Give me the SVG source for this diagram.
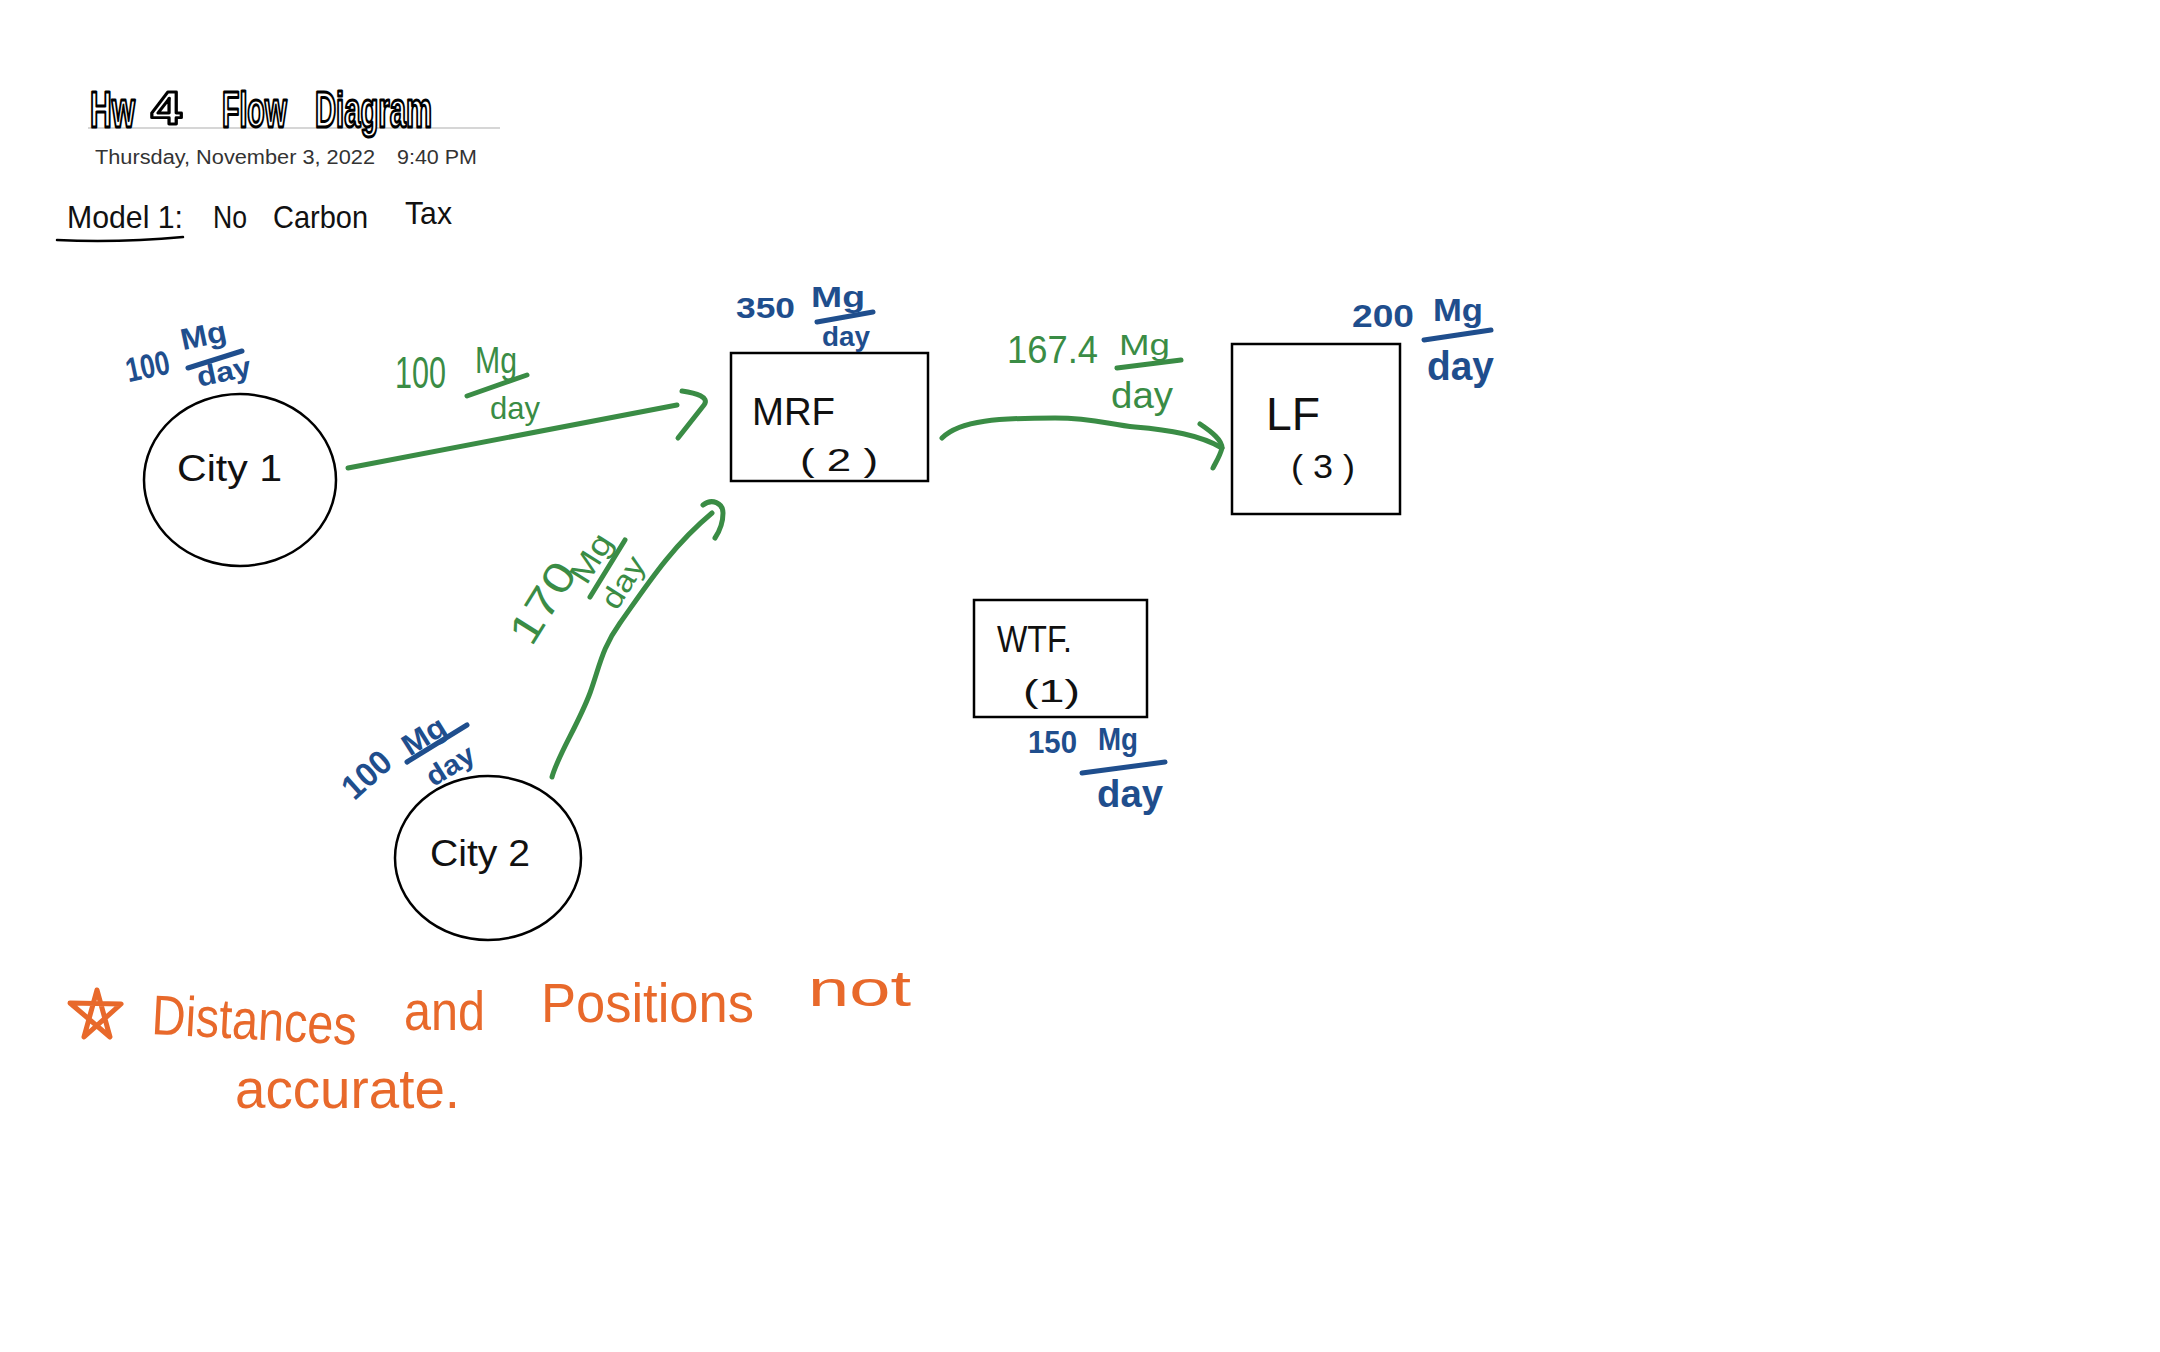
<svg xmlns="http://www.w3.org/2000/svg" width="2160" height="1352" viewBox="0 0 2160 1352">
<style>
.bg{fill:#fff}
.node{fill:none;stroke:#000;stroke-width:2.5}
.hand{font-family:"Liberation Sans",Arial,sans-serif;fill:#111}
.title{font-family:"Liberation Sans",Arial,sans-serif;font-weight:bold;font-size:50px;fill:#fff;stroke:#000;stroke-width:3;stroke-linejoin:round}
.date{font-family:"Liberation Sans",Arial,sans-serif;font-size:20px;fill:#333}
.blue{font-family:"Liberation Sans",Arial,sans-serif;fill:#1F4E8D;font-weight:bold}
.green{font-family:"Liberation Sans",Arial,sans-serif;fill:#3A8C45}
.orange{font-family:"Liberation Sans",Arial,sans-serif;fill:#E8692B}
.flow{fill:none;stroke:#3A8C45;stroke-width:5;stroke-linecap:round;stroke-linejoin:round}
.bline{fill:none;stroke:#1F4E8D;stroke-width:5;stroke-linecap:round}
.gline{fill:none;stroke:#3A8C45;stroke-width:5;stroke-linecap:round}
.oline{fill:none;stroke:#E8692B;stroke-width:5;stroke-linecap:round;stroke-linejoin:round}
</style>
<rect class="bg" x="0" y="0" width="2160" height="1352"/>

<g id="header">
  <line x1="88" y1="128" x2="500" y2="128" stroke="#c8c8c8" stroke-width="1.5"/>
  <text class="title" transform="translate(90,127) scale(0.6,1)" x="0" y="0">Hw</text>
  <text class="title" transform="translate(151,124) scale(1.1,0.92)" x="0" y="0">4</text>
  <text class="title" transform="translate(222,127) scale(0.57,1)" x="0" y="0">Flow</text>
  <text class="title" transform="translate(315,127) scale(0.585,1)" x="0" y="0">Diagram</text>
  <text class="date" x="95" y="164" textLength="280" lengthAdjust="spacingAndGlyphs">Thursday, November 3, 2022</text>
  <text class="date" x="397" y="164" textLength="80" lengthAdjust="spacingAndGlyphs">9:40 PM</text>
  <text class="hand" x="67" y="228" font-size="32" textLength="116" lengthAdjust="spacingAndGlyphs">Model 1:</text>
  <text class="hand" x="213" y="228" font-size="32" textLength="34" lengthAdjust="spacingAndGlyphs">No</text>
  <text class="hand" x="273" y="228" font-size="32" textLength="95" lengthAdjust="spacingAndGlyphs">Carbon</text>
  <text class="hand" x="405" y="224" font-size="32" textLength="47" lengthAdjust="spacingAndGlyphs">Tax</text>
  <path d="M57,240 C100,242 150,240 183,237" fill="none" stroke="#000" stroke-width="2.5" stroke-linecap="round"/>
</g>

<g id="connectors">
  <path class="flow" d="M348,468 L677,405"/>
  <path class="flow" d="M682,391 C696,393 710,397 704,405 L678,438"/>
  <path class="flow" d="M552,777 C558,755 578,725 590,693 C600,665 602,648 620,623 C645,588 670,548 712,513"/>
  <path class="flow" d="M703,505 C712,498 723,503 723,513 C723,523 719,532 715,538"/>
  <path class="flow" d="M942,438 C960,420 1000,418 1055,418 C1095,418 1110,425 1135,427 C1170,430 1200,435 1222,448"/>
  <path class="flow" d="M1200,424 C1212,432 1222,440 1222,448 C1220,456 1216,462 1213,468"/>
</g>

<g id="city1">
  <ellipse class="node" cx="240" cy="480" rx="96" ry="86"/>
  <text class="hand" x="177" y="481" font-size="36" textLength="105" lengthAdjust="spacingAndGlyphs">City 1</text>
  <g transform="rotate(-12 185 355)">
    <text class="blue" x="124" y="370" font-size="34" textLength="44" lengthAdjust="spacingAndGlyphs">100</text>
    <text class="blue" x="184" y="350" font-size="30" textLength="46" lengthAdjust="spacingAndGlyphs">Mg</text>
    <text class="blue" x="192" y="389" font-size="28" textLength="55" lengthAdjust="spacingAndGlyphs">day</text>
  </g>
  <line class="bline" x1="188" y1="368" x2="242" y2="351"/>
</g>

<g id="city2">
  <ellipse class="node" cx="488" cy="858" rx="93" ry="82"/>
  <text class="hand" x="430" y="866" font-size="36" textLength="100" lengthAdjust="spacingAndGlyphs">City 2</text>
  <text class="blue" x="367" y="786" font-size="34" text-anchor="middle" textLength="54" lengthAdjust="spacingAndGlyphs" transform="rotate(-42 367 775)">100</text>
  <text class="blue" x="424" y="746" font-size="30" text-anchor="middle" textLength="46" lengthAdjust="spacingAndGlyphs" transform="rotate(-32 424 736)">Mg</text>
  <line class="bline" x1="407" y1="762" x2="467" y2="725"/>
  <text class="blue" x="450" y="775" font-size="28" text-anchor="middle" textLength="52" lengthAdjust="spacingAndGlyphs" transform="rotate(-32 450 765)">day</text>
</g>

<g id="flow-city1-mrf-label">
  <text class="green" x="395" y="388" font-size="44" textLength="51" lengthAdjust="spacingAndGlyphs">100</text>
  <text class="green" x="475" y="373" font-size="36" textLength="42" lengthAdjust="spacingAndGlyphs">Mg</text>
  <line class="gline" x1="467" y1="396" x2="527" y2="375"/>
  <text class="green" x="490" y="419" font-size="32" textLength="50" lengthAdjust="spacingAndGlyphs">day</text>
</g>

<g id="flow-city2-mrf-label">
  <text class="green" x="543" y="617" font-size="42" text-anchor="middle" textLength="88" lengthAdjust="spacingAndGlyphs" transform="rotate(-58 543 603)">170</text>
  <text class="green" x="591" y="569" font-size="32" text-anchor="middle" textLength="52" lengthAdjust="spacingAndGlyphs" transform="rotate(-58 591 558)">Mg</text>
  <line class="gline" x1="590" y1="597" x2="625" y2="540"/>
  <text class="green" x="624" y="592" font-size="30" text-anchor="middle" textLength="56" lengthAdjust="spacingAndGlyphs" transform="rotate(-58 624 583)">day</text>
</g>

<g id="mrf">
  <rect class="node" x="731" y="353" width="197" height="128"/>
  <text class="hand" x="752" y="425" font-size="38" textLength="83" lengthAdjust="spacingAndGlyphs">MRF</text>
  <text class="hand" x="800" y="471" font-size="32" textLength="78" lengthAdjust="spacingAndGlyphs">( 2 )</text>
  <text class="blue" x="736" y="318" font-size="29" textLength="59" lengthAdjust="spacingAndGlyphs">350</text>
  <text class="blue" x="811" y="307" font-size="30" textLength="54" lengthAdjust="spacingAndGlyphs">Mg</text>
  <line class="bline" x1="817" y1="322" x2="873" y2="312"/>
  <text class="blue" x="822" y="346" font-size="28" textLength="48" lengthAdjust="spacingAndGlyphs">day</text>
</g>

<g id="flow-mrf-lf-label">
  <text class="green" x="1007" y="363" font-size="38" textLength="91" lengthAdjust="spacingAndGlyphs">167.4</text>
  <text class="green" x="1119" y="355" font-size="30" textLength="51" lengthAdjust="spacingAndGlyphs">Mg</text>
  <line class="gline" x1="1117" y1="368" x2="1181" y2="360"/>
  <text class="green" x="1111" y="408" font-size="36" textLength="62" lengthAdjust="spacingAndGlyphs">day</text>
</g>

<g id="lf">
  <rect class="node" x="1232" y="344" width="168" height="170"/>
  <text class="hand" x="1266" y="430" font-size="46" textLength="54" lengthAdjust="spacingAndGlyphs">LF</text>
  <text class="hand" x="1291" y="478" font-size="34" textLength="64" lengthAdjust="spacingAndGlyphs">( 3 )</text>
  <text class="blue" x="1352" y="327" font-size="32" textLength="62" lengthAdjust="spacingAndGlyphs">200</text>
  <text class="blue" x="1433" y="321" font-size="31" textLength="50" lengthAdjust="spacingAndGlyphs">Mg</text>
  <line class="bline" x1="1424" y1="340" x2="1491" y2="330"/>
  <text class="blue" x="1427" y="380" font-size="40" textLength="67" lengthAdjust="spacingAndGlyphs">day</text>
</g>

<g id="wtf">
  <rect class="node" x="974" y="600" width="173" height="117"/>
  <text class="hand" x="997" y="652" font-size="36" textLength="75" lengthAdjust="spacingAndGlyphs">WTF.</text>
  <text class="hand" x="1023" y="702" font-size="32" textLength="57" lengthAdjust="spacingAndGlyphs">(1)</text>
  <text class="blue" x="1028" y="753" font-size="31" textLength="49" lengthAdjust="spacingAndGlyphs">150</text>
  <text class="blue" x="1098" y="750" font-size="32" textLength="40" lengthAdjust="spacingAndGlyphs">Mg</text>
  <line class="bline" x1="1082" y1="773" x2="1165" y2="762"/>
  <text class="blue" x="1097" y="807" font-size="38" textLength="66" lengthAdjust="spacingAndGlyphs">day</text>
</g>

<g id="note">
  <path class="oline" d="M97,990 L84,1037 L121,1004 L70,1003 L110,1037 Z"/>
  <text class="orange" x="151" y="1034" font-size="56" textLength="205" lengthAdjust="spacingAndGlyphs" transform="rotate(3 151 1034)">Distances</text>
  <text class="orange" x="404" y="1030" font-size="56" textLength="81" lengthAdjust="spacingAndGlyphs">and</text>
  <text class="orange" x="541" y="1022" font-size="56" textLength="213" lengthAdjust="spacingAndGlyphs">Positions</text>
  <text class="orange" x="808" y="1006" font-size="50" textLength="103" lengthAdjust="spacingAndGlyphs">not</text>
  <text class="orange" x="235" y="1108" font-size="56" textLength="225" lengthAdjust="spacingAndGlyphs">accurate.</text>
</g>
</svg>
